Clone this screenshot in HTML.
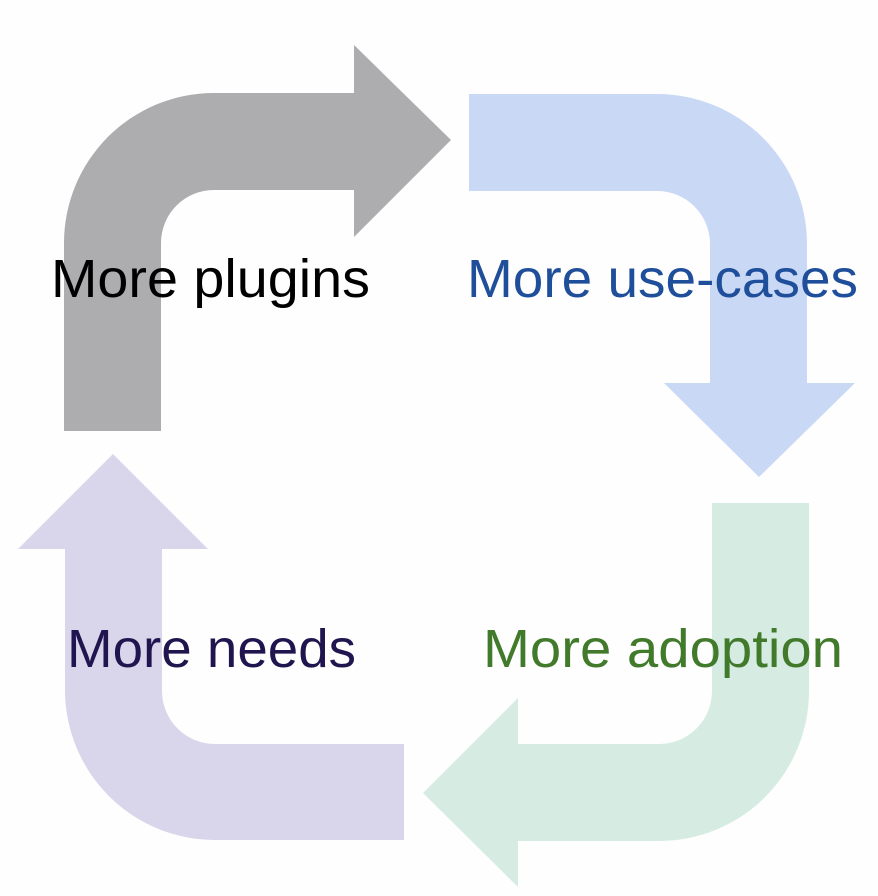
<!DOCTYPE html>
<html>
<head>
<meta charset="utf-8">
<style>
  html, body { margin: 0; padding: 0; background: #fefefe; }
  svg { display: block; }
  text { font-family: "Liberation Sans", Arial, sans-serif; font-size: 54px; }
</style>
</head>
<body>
<svg width="878" height="896" viewBox="0 0 878 896" xmlns="http://www.w3.org/2000/svg">
  <rect width="878" height="896" fill="#fefefe"/>
  <!-- Gray arrow -->
  <path d="M64,431 L64,243 A150,150 0 0 1 214,93 L354,93 L354,45 L451,140 L354,237 L354,190 L214,190 A53,53 0 0 0 161,243 L161,431 Z" fill="#adacaf"/>
  <!-- Blue arrow -->
  <path d="M469,94 L657,94 A150,150 0 0 1 807,244 L807,383 L855,383 L759,477 L664,383 L710,383 L710,244 A53,53 0 0 0 657,191 L469,191 Z" fill="#c9d9f5"/>
  <!-- Green arrow -->
  <path d="M712,503 L809,503 L809,691 A150,150 0 0 1 659,841 L518,841 L518,887 L423,793 L518,698 L518,744 L659,744 A53,53 0 0 0 712,691 Z" fill="#d6ece3"/>
  <!-- Purple arrow -->
  <path d="M404,744 L404,840 L215,840 A150,150 0 0 1 65,690 L65,549 L18,549 L113,454 L208,549 L162,549 L162,691 A53,53 0 0 0 215,744 Z" fill="#d9d5ea"/>

  <text x="51" y="297" textLength="319" lengthAdjust="spacingAndGlyphs" fill="#000000">More plugins</text>
  <text x="467" y="297" textLength="391" lengthAdjust="spacingAndGlyphs" fill="#1f4e9a">More use-cases</text>
  <text x="483" y="667" textLength="360" lengthAdjust="spacingAndGlyphs" fill="#427a2c">More adoption</text>
  <text x="67" y="667" textLength="289" lengthAdjust="spacingAndGlyphs" fill="#20154f">More needs</text>
</svg>
</body>
</html>
